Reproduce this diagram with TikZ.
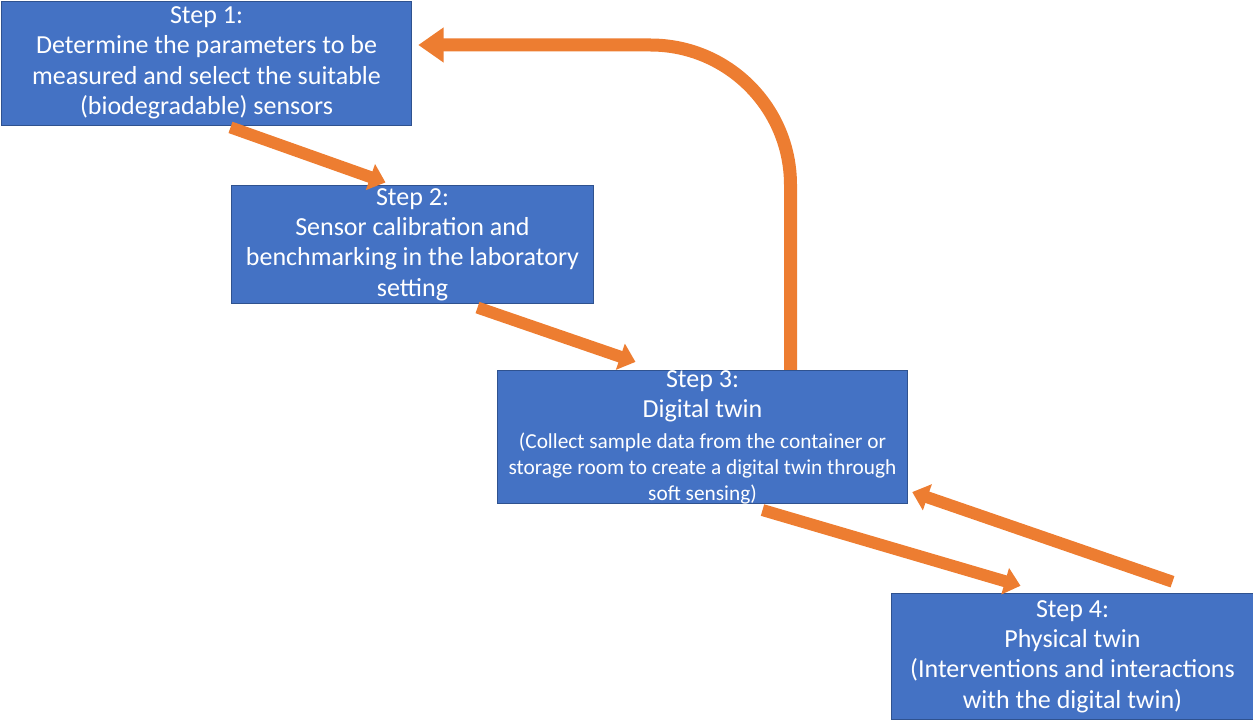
\documentclass[tikz,border=0pt]{standalone}
\usepackage{fontspec}
\setmainfont{Carlito}
\usetikzlibrary{arrows.meta,calc}

\definecolor{boxblue}{HTML}{4472C4}
\definecolor{boxline}{HTML}{2F528F}
\definecolor{flow}{HTML}{ED7D31}

\tikzset{
  stepbox/.style={fill=boxblue,draw=boxline,line width=0.6pt,text=white,
    align=center,inner sep=0pt,font=\fontsize{19.5}{22.8}\selectfont},
  flowarrow/.style={flow,line width=9pt,-{Triangle[length=12pt,width=20pt]}},
  backarrow/.style={flow,line width=9.75pt,rounded corners=105pt,
    -{Triangle[length=19pt,width=25pt]}},
}

\begin{document}
\begin{tikzpicture}[x=0.75pt,y=-0.75pt]
    \useasboundingbox (0,0) rectangle (1253,720);
    % the four steps
    \node[stepbox,minimum width=308pt,minimum height=93pt] (s1) at (206.5,63)
      {Step 1:\\Determine the parameters to be\\measured and select the suitable\\(biodegradable) sensors};
    \node[stepbox,minimum width=271pt,minimum height=88pt] (s2) at (412.5,244.5)
      {Step 2:\\Sensor calibration and\\benchmarking in the laboratory\\setting};
    \node[stepbox,minimum width=308pt,minimum height=99pt] (s3) at (702.5,437)
      {Step 3:\\Digital twin\\{\fontsize{16}{19.5}\selectfont (Collect sample data from the container or}\\[-3.3pt]
       {\fontsize{16}{19.5}\selectfont storage room to create a digital twin through}\\[-3.3pt]
       {\fontsize{16}{19.5}\selectfont soft sensing)}};
    \node[stepbox,minimum width=271pt,minimum height=95pt] (s4) at (1072.5,656.5)
      {Step 4:\\Physical twin\\(Interventions and interactions\\with the digital twin)};
    % arrows
    \draw[flowarrow] ($(s1.south)+(24,2)$) -- ($(s2.north)+(-27,-3)$);
    \draw[flowarrow] ($(s2.south)+(65,4)$) -- ($(s3.north)+(-67,-8)$);
    \draw[flowarrow] ($(s3.south)+(60,6)$) -- ($(s4.north)+(-52,-7)$);
    \draw[flowarrow] ($(s4.north)+(100,-11)$) -- ($(s3.south east)+(4,-12)$);
    \draw[backarrow] ($(s3.north)+(88,0)$) |- ($(s1.east)+(6,-18)$);
\end{tikzpicture}
\end{document}
